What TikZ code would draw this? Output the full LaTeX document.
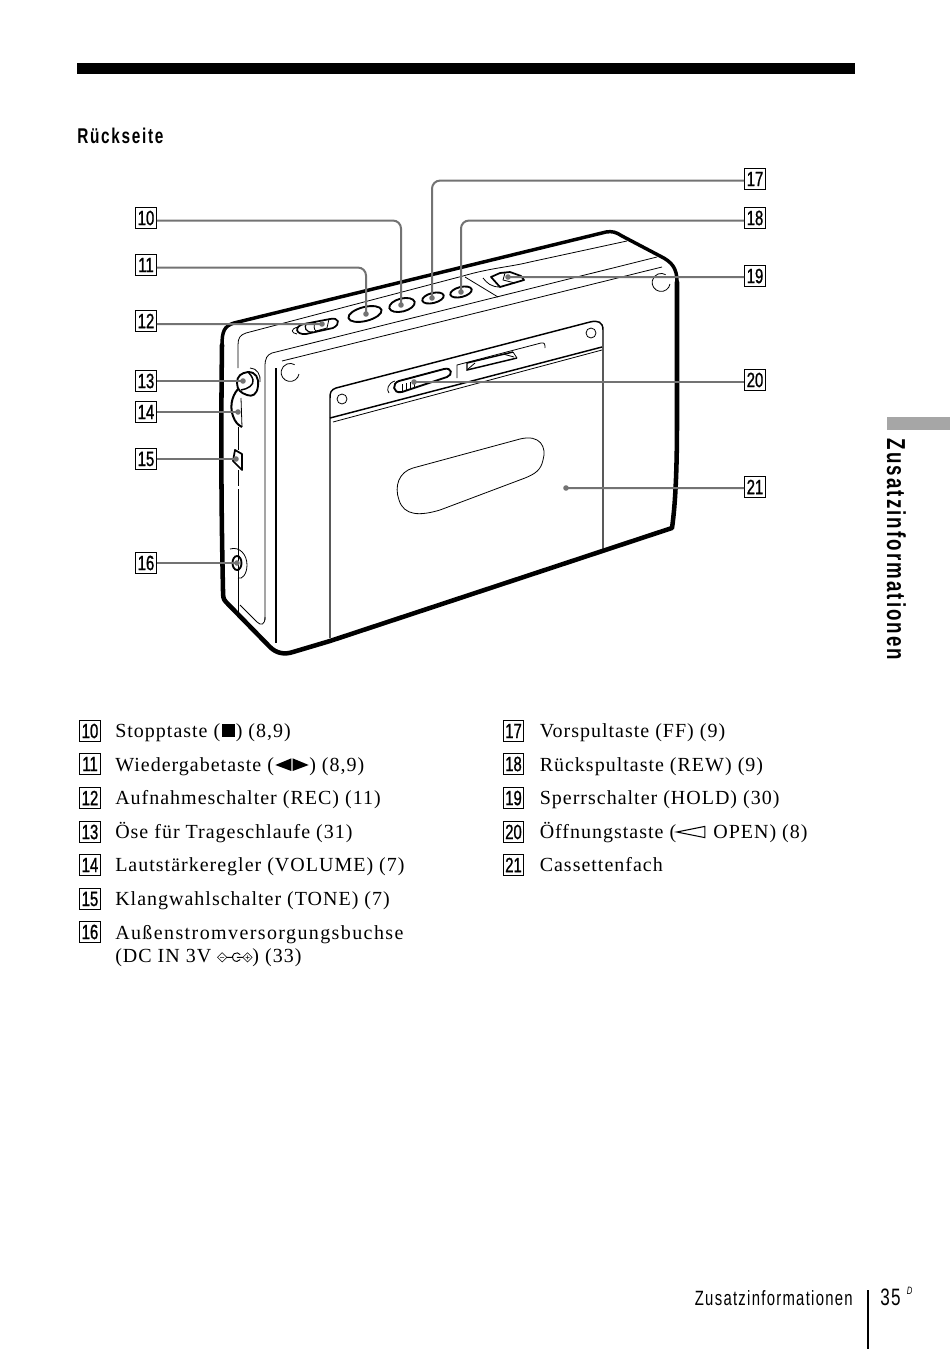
\documentclass[tikz,border=0pt]{standalone}
\usepackage{fontspec}
\setmainfont{Liberation Serif}
\newfontfamily\bodyfont[LetterSpace=5]{Liberation Serif}
\newfontfamily\widebody[LetterSpace=7]{Liberation Serif}
\newfontfamily\numfont[FakeStretch=.72,FakeBold=1]{Liberation Sans}
\newfontfamily\headfont[FakeStretch=.72,LetterSpace=8]{Liberation Sans}
\newfontfamily\footfont[FakeStretch=.72,LetterSpace=6.2]{Liberation Sans}

\tikzset{
	numbox/.style={draw,line width=.9pt,minimum width=15.5pt,minimum height=15.5pt,inner sep=0pt,font=\numfont\fontsize{15.5}{15.5}\selectfont},
	itemtext/.style={anchor=base west,inner sep=0pt,font=\bodyfont\fontsize{15}{18}\selectfont},
	leader/.style={draw=black!55,line width=1.5pt,rounded corners=6pt},
	thinline/.style={line width=.6pt},
	midline/.style={line width=1.1pt},
	heavyline/.style={line width=2.6pt,line join=round,line cap=round},
}

\newcommand{\stopsym}{\tikz[x=1pt,y=1pt,baseline=0pt]{\fill (0,0) rectangle (9.5,10);}}
\newcommand{\playsym}{\tikz[x=1pt,y=1pt,baseline=0pt]{\fill (0,4.5) -- (12,9.5) -- (12,0) -- cycle; \fill (13,9.5) -- (25,4.5) -- (13,0) -- cycle;}}
\newcommand{\opensym}{\tikz[x=1pt,y=1pt,baseline=0pt]{\draw[line width=.8pt] (0,4.5) -- (21,8.7) -- (21,.3) -- cycle;}}
\newcommand{\dcsym}{\tikz[x=1pt,y=1pt,baseline=0pt]{
	\draw[line width=.4pt] (0,3.5) -- (3.5,7) -- (7,3.5) -- (3.5,0) -- cycle (2,3.5) -- (5,3.5);
	\draw[line width=.7pt] (7,3.5) -- (11,3.5) (17,5.5) arc (35:325:3.2) (14.5,3.5) -- (19,3.5);
	\draw[line width=.4pt] (19,3.5) -- (22.5,7) -- (26,3.5) -- (22.5,0) -- cycle (21,3.5) -- (24,3.5) (22.5,2) -- (22.5,5);
}}

\begin{document}
\begin{tikzpicture}[x=.75pt,y=-.75pt]
\useasboundingbox (0,0) rectangle (950,1349);

% PAGE FURNITURE

\fill (77,63) rectangle (855,74);
\fill[black!35] (887,417) rectangle (950,430);
\node[anchor=base west,inner sep=0pt,font=\headfont\bfseries\fontsize{16}{16}\selectfont] (heading) at (77,143) {Rückseite};
\node[rotate=-90,inner sep=0pt,font=\headfont\bfseries\fontsize{19.5}{20}\selectfont] (sidetitle) at (896.5,549.5) {Zusatzinformationen};
\node[anchor=base east,inner sep=0pt,font=\footfont\fontsize{15.5}{16}\selectfont] (foottitle) at (853,1305) {Zusatzinformationen};
\draw[line width=1.1pt] (868,1290) -- (868,1349);
\node[anchor=base west,inner sep=0pt,font=\footfont\fontsize{17.8}{18}\selectfont] (pageno) at (880,1305) {35};
\node[anchor=base west,inner sep=0pt,font=\footfont\itshape\fontsize{8}{9}\selectfont] (pagesup) at (906.5,1294) {D};

% CASE

\draw[heavyline] (222,345) .. controls (222,332) and (224,326) .. (234,323) -- (606,232) .. controls (612,231) and (616,232) .. (622,236)
	-- (660,256) .. controls (672,262) and (677,268) .. (677,282);
\draw[line width=3.4pt,line join=round,line cap=round] (677,282) -- (677,420) .. controls (677,460) and (676,500) .. (672,528)
	-- (330,641) -- (293,652) .. controls (284,655) and (276,653) .. (270,647) -- (226,602) .. controls (223,599) and (223,596) .. (223,590)
	.. controls (221,500) and (221,420) .. (222,345);
\draw[thinline] (238,368) -- (238,345) .. controls (238,338) and (240,335) .. (246,333) -- (463,276)
	.. controls (490,268) and (510,267) .. (530,262) -- (627,241);
\draw[thinline] (265,620) -- (265,367) .. controls (265,358) and (267,355) .. (272,353) -- (657,257);
\draw[thinline] (282,361) -- (662,267);
\draw[thinline] (465,277) -- (498,297);
\draw[thinline] (265,617) .. controls (265,625) and (261,626) .. (257,622) -- (240,605);
\draw[line width=.8pt] (276,368) -- (276,643);
\draw[thinline] (238,427) -- (238,450) (238,470) -- (238,486) (238,489) -- (238,613);
\draw[thinline] (670,284) arc (10:300:9);
\draw[thinline] (299,374) arc (10:300:9);

% CASSETTE DOOR

\draw[midline] (330,638) -- (330,398) .. controls (330,392) and (331,390) .. (336,388) -- (590,322) .. controls (598,320) and (603,322) .. (603,330) -- (603,552);
\draw[midline] (330,418) -- (602,347);
\draw[thinline] (333,422) -- (602,350);
\draw[thinline] (342,399) circle (5);
\draw[thinline] (591,333) circle (5);
\draw[thinline] (457,378) -- (457,365) -- (541,343) .. controls (545,342) and (545,345) .. (545,348);
\draw[midline] (513,352) -- (467,363) -- (467,370) -- (517,358);
\draw[thinline] (513,352) -- (517,358) (468,369) -- (475,363) (503,354) -- (514,357);
\draw[thinline] (413,468) -- (520,439) .. controls (540,434) and (547,447) .. (543,460) .. controls (541,470) and (535,474) .. (525,478)
	-- (440,510) .. controls (420,516) and (404,516) .. (399,500) .. controls (394,486) and (399,472) .. (413,468);

% BUTTONS

\draw[line width=1.4pt,rotate around={14:(402,305)}] (402,305) ellipse (13 and 6.5);
\draw[line width=1.4pt,rotate around={14:(365,314)}] (365,314) ellipse (17 and 7);
\draw[line width=1.4pt,rotate around={14:(433,298)}] (433,298) ellipse (11 and 5);
\draw[line width=1.4pt,rotate around={14:(461,292)}] (461,292) ellipse (11 and 5);

% REC SWITCH

\draw[line width=1.3pt] (304,324) -- (330,319) .. controls (339,317) and (341,324) .. (333,328) -- (306,334) .. controls (295,335) and (294,326) .. (304,324);
\draw[thinline] (298,327) .. controls (290,329) and (291,333) .. (297,334);
\draw[line width=.9pt] (307,323) .. controls (303,327) and (306,333) .. (313,332);
\draw[thinline] (316,321) .. controls (313,325) and (314,330) .. (316,331) -- (327,328) -- (329,319);

% HOLD SWITCH

\draw[line width=1.3pt,line join=round] (491,277) -- (500,273) -- (510,272) -- (521,276) -- (524,280) -- (500,287) -- cycle;
\draw[thinline] (505,273) -- (503,280) -- (515,283);
\draw[thinline] (483,278) .. controls (487,283) and (491,287) .. (500,287);

% OPEN SLIDER

\draw[line width=1.4pt] (399,381) -- (444,369) .. controls (452,367) and (453,375) .. (447,377) -- (402,392) .. controls (392,394) and (392,383) .. (399,381);
\draw[thinline] (395,381) .. controls (388,383) and (386,390) .. (389,393);
\draw[thinline] (402,384) -- (402,391) (406,383) -- (406,390) (410,382) -- (410,389) (414,381) -- (414,388);

% EYELET, VOLUME, TONE, JACK

\draw[line width=1.4pt] (237,383) .. controls (237,376) and (241,373) .. (248,372) .. controls (256,372) and (259,378) .. (258,386)
	.. controls (257,395) and (252,397) .. (247,395) .. controls (241,393) and (237,390) .. (237,383);
\draw[line width=1.1pt] (241,390) .. controls (248,389) and (254,385) .. (253,380) .. controls (252,376) and (250,374) .. (248,372);
\draw[thinline] (250,368) .. controls (257,368) and (261,375) .. (260,382);
\draw[line width=1.5pt] (238,389) .. controls (231,397) and (230,408) .. (233,416) .. controls (235,422) and (238,425) .. (242,427);
\draw[thinline] (242,427) -- (241,398);
\draw[line width=1.3pt,line join=round] (235,450) -- (242,454) -- (242,470) -- (233,461) -- cycle;
\draw[line width=1.4pt] (237,563) ellipse (4.5 and 7);
\draw[thinline] (230,549) .. controls (240,546) and (247,555) .. (247,565) .. controls (247,574) and (242,580) .. (238,578);

% CALLOUT NUMBERS

\node[numbox] (n10) at (146,218) {10};
\node[numbox] (n11) at (146,265) {11};
\node[numbox] (n12) at (146,321) {12};
\node[numbox] (n13) at (146,381) {13};
\node[numbox] (n14) at (146,412) {14};
\node[numbox] (n15) at (146,459) {15};
\node[numbox] (n16) at (146,563) {16};
\node[numbox] (n17) at (755,179) {17};
\node[numbox] (n18) at (755,218) {18};
\node[numbox] (n19) at (755,276) {19};
\node[numbox] (n20) at (755,380) {20};
\node[numbox] (n21) at (755,487) {21};

\coordinate (p10) at (401,305);
\coordinate (p11) at (366,314);
\coordinate (p12) at (322,324);
\coordinate (p13) at (243,381);
\coordinate (p14) at (238,412);
\coordinate (p15) at (236,459);
\coordinate (p16) at (237,563);
\coordinate (p17) at (432,298);
\coordinate (p18) at (461,292);
\coordinate (p19) at (508,277);
\coordinate (p20) at (414,382);
\coordinate (p21) at (566,488);

% LEADERS

\draw[leader] ([yshift=-1.9pt]n10.east) -| (p10);
\draw[leader] ([yshift=-1.9pt]n11.east) -| (p11);
\draw[leader] ([yshift=-2.3pt]n12.east) -- (p12);
\draw[leader] (n13.east) -- (p13);
\draw[leader] (n14.east) -- (p14);
\draw[leader] (n15.east) -- (p15);
\draw[leader] (n16.east) -- (p16);
\draw[leader] ([yshift=-1.2pt]n17.west) -| (p17);
\draw[leader] ([yshift=-1.9pt]n18.west) -| (p18);
\draw[leader] ([yshift=-.8pt]n19.west) -- (p19);
\draw[leader] ([yshift=-1.5pt]n20.west) -- (p20);
\draw[leader] ([yshift=-.8pt]n21.west) -- (p21);

\fill[black!55] (p10) circle (2.8);
\fill[black!55] (p11) circle (2.8);
\fill[black!55] (p12) circle (2.8);
\fill[black!55] (p13) circle (2.8);
\fill[black!55] (p14) circle (2.8);
\fill[black!55] (p15) circle (2.8);
\fill[black!55] (p16) circle (2.8);
\fill[black!55] (p17) circle (2.8);
\fill[black!55] (p18) circle (2.8);
\fill[black!55] (p19) circle (2.8);
\fill[black!55] (p20) circle (2.8);
\fill[black!55] (p21) circle (2.8);

% LEFT LIST

\node[numbox] (k10) at (90,731) {10};
\node[itemtext] (t10) at (115,737) {Stopptaste (\hspace{1.2pt}\stopsym\hspace{1pt}) (8,9)};
\node[numbox] (k11) at (90,764) {11};
\node[itemtext] (t11) at (115,771) {Wiedergabetaste (\hspace{1pt}\playsym\hspace{.5pt}) (8,9)};
\node[numbox] (k12) at (90,798) {12};
\node[itemtext] (t12) at (115,804) {Aufnahmeschalter (REC) (11)};
\node[numbox] (k13) at (90,832) {13};
\node[itemtext] (t13) at (115,838) {Öse für Trageschlaufe (31)};
\node[numbox] (k14) at (90,865) {14};
\node[itemtext] (t14) at (115,871) {Lautstärkeregler (VOLUME) (7)};
\node[numbox] (k15) at (90,899) {15};
\node[itemtext] (t15) at (115,905) {Klangwahlschalter (TONE) (7)};
\node[numbox] (k16) at (90,932) {16};
\node[itemtext,font=\widebody\fontsize{15}{18}\selectfont] (t16) at (115,939) {Außenstromversorgungsbuchse};
\node[itemtext] (t16b) at (115,962) {(DC IN 3V \dcsym) (33)};

% RIGHT LIST

\node[numbox] (k17) at (513.5,731) {17};
\node[itemtext] (t17) at (539.5,737) {Vorspultaste (FF) (9)};
\node[numbox] (k18) at (513.5,764) {18};
\node[itemtext] (t18) at (539.5,771) {Rückspultaste (REW) (9)};
\node[numbox] (k19) at (513.5,798) {19};
\node[itemtext] (t19) at (539.5,804) {Sperrschalter (HOLD) (30)};
\node[numbox] (k20) at (513.5,832) {20};
\node[itemtext] (t20) at (539.5,838) {Öffnungstaste (\opensym\hspace{1.5pt} OPEN) (8)};
\node[numbox] (k21) at (513.5,865) {21};
\node[itemtext] (t21) at (539.5,871) {Cassettenfach};

\end{tikzpicture}
\end{document}
